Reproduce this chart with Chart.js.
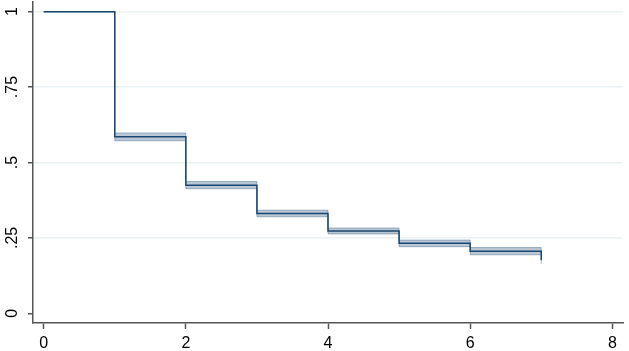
<!DOCTYPE html>
<html>
<head>
<meta charset="utf-8">
<script src="https://cdn.jsdelivr.net/npm/chart.js@4.4.0/dist/chart.umd.min.js"></script>
<style>
  html, body { margin: 0; padding: 0; background: #fff; }
  #wrap { width: 629px; height: 351px; }
</style>
</head>
<body>
<div id="wrap"><canvas id="grafico"></canvas></div>
<script>
// Tempo de análise e estimativa de sobrevivência (Kaplan-Meier)
const tempos = [0, 1, 2, 3, 4, 5, 6, 7];
const sobrevivencia = [1, 0.585, 0.425, 0.331, 0.273, 0.232, 0.206, 0.176];
const limiteSup = [1, 0.598, 0.437, 0.342, 0.283, 0.243, 0.218, 0.188];
const limiteInf = [1, 0.572, 0.413, 0.320, 0.263, 0.221, 0.194, 0.164];

const ticksX = [0, 2, 4, 6, 8];
const ticksY = [0, 0.25, 0.5, 0.75, 1];
const rotulosY = ['0', '.25', '.5', '.75', '1'];

function pontos(valores) {
    return tempos.map((t, i) => ({ x: t, y: valores[i] }));
}

const corLinha = '#1a476f';
const corEixo = '#555555';

const data = {
    datasets: [
        {
            label: 'Sobrevivência',
            data: pontos(sobrevivencia),
            borderColor: corLinha,
            borderWidth: 1.5,
            stepped: 'before',
            pointRadius: 0,
            fill: false
        },
        {
            label: 'IC sup',
            data: pontos(limiteSup),
            borderColor: 'rgba(26, 71, 111, 0.35)',
            borderWidth: 1,
            stepped: 'before',
            pointRadius: 0,
            fill: false
        },
        {
            label: 'IC inf',
            data: pontos(limiteInf),
            borderColor: 'rgba(26, 71, 111, 0.35)',
            backgroundColor: 'rgba(26, 71, 111, 0.3)',
            borderWidth: 1,
            stepped: 'before',
            pointRadius: 0,
            fill: '-1'
        }
    ]
};

const config = {
    type: 'line',
    data: data,
    options: {
        responsive: true,
        maintainAspectRatio: false,
        animation: false,
        layout: { padding: { top: 2, right: 6, left: 0, bottom: 0 } },
        plugins: {
            legend: { display: false },
            tooltip: { enabled: false }
        },
        scales: {
            x: {
                type: 'linear',
                min: -0.15,
                max: 8.15,
                afterBuildTicks: scale => { scale.ticks = ticksX.map(v => ({ value: v })); },
                afterFit: scale => {
                    scale.height = 28;
                    scale.paddingLeft = 0;
                    scale.paddingRight = 0;
                },
                border: { color: corEixo, width: 1.5 },
                grid: { drawOnChartArea: false, tickLength: 6, tickColor: corEixo, tickWidth: 1.5 },
                ticks: {
                    includeBounds: false,
                    color: '#000',
                    padding: 5,
                    maxRotation: 0,
                    font: { family: 'Liberation Sans', size: 16 },
                    callback: v => String(v)
                }
            },
            y: {
                type: 'linear',
                min: -0.032,
                max: 1.032,
                afterBuildTicks: scale => { scale.ticks = ticksY.map(v => ({ value: v })); },
                afterFit: scale => {
                    scale.width = 33;
                    scale.paddingTop = 0;
                    scale.paddingBottom = 0;
                },
                border: { color: corEixo, width: 1.5 },
                grid: {
                    color: ctx => (ctx.tick && ctx.tick.value === 0) ? 'rgba(0,0,0,0)' : '#eaf2f3',
                    lineWidth: 1.5,
                    tickLength: 5,
                    tickColor: corEixo,
                    tickWidth: 1.5
                },
                ticks: {
                    includeBounds: false,
                    color: '#000',
                    padding: 4,
                    minRotation: 90,
                    maxRotation: 90,
                    crossAlign: 'center',
                    font: { family: 'Liberation Sans', size: 16 },
                    callback: v => rotulosY[ticksY.indexOf(v)]
                }
            }
        }
    }
};

const ctx = document.getElementById('grafico').getContext('2d');
const grafico = new Chart(ctx, config);
</script>
</body>
</html>
